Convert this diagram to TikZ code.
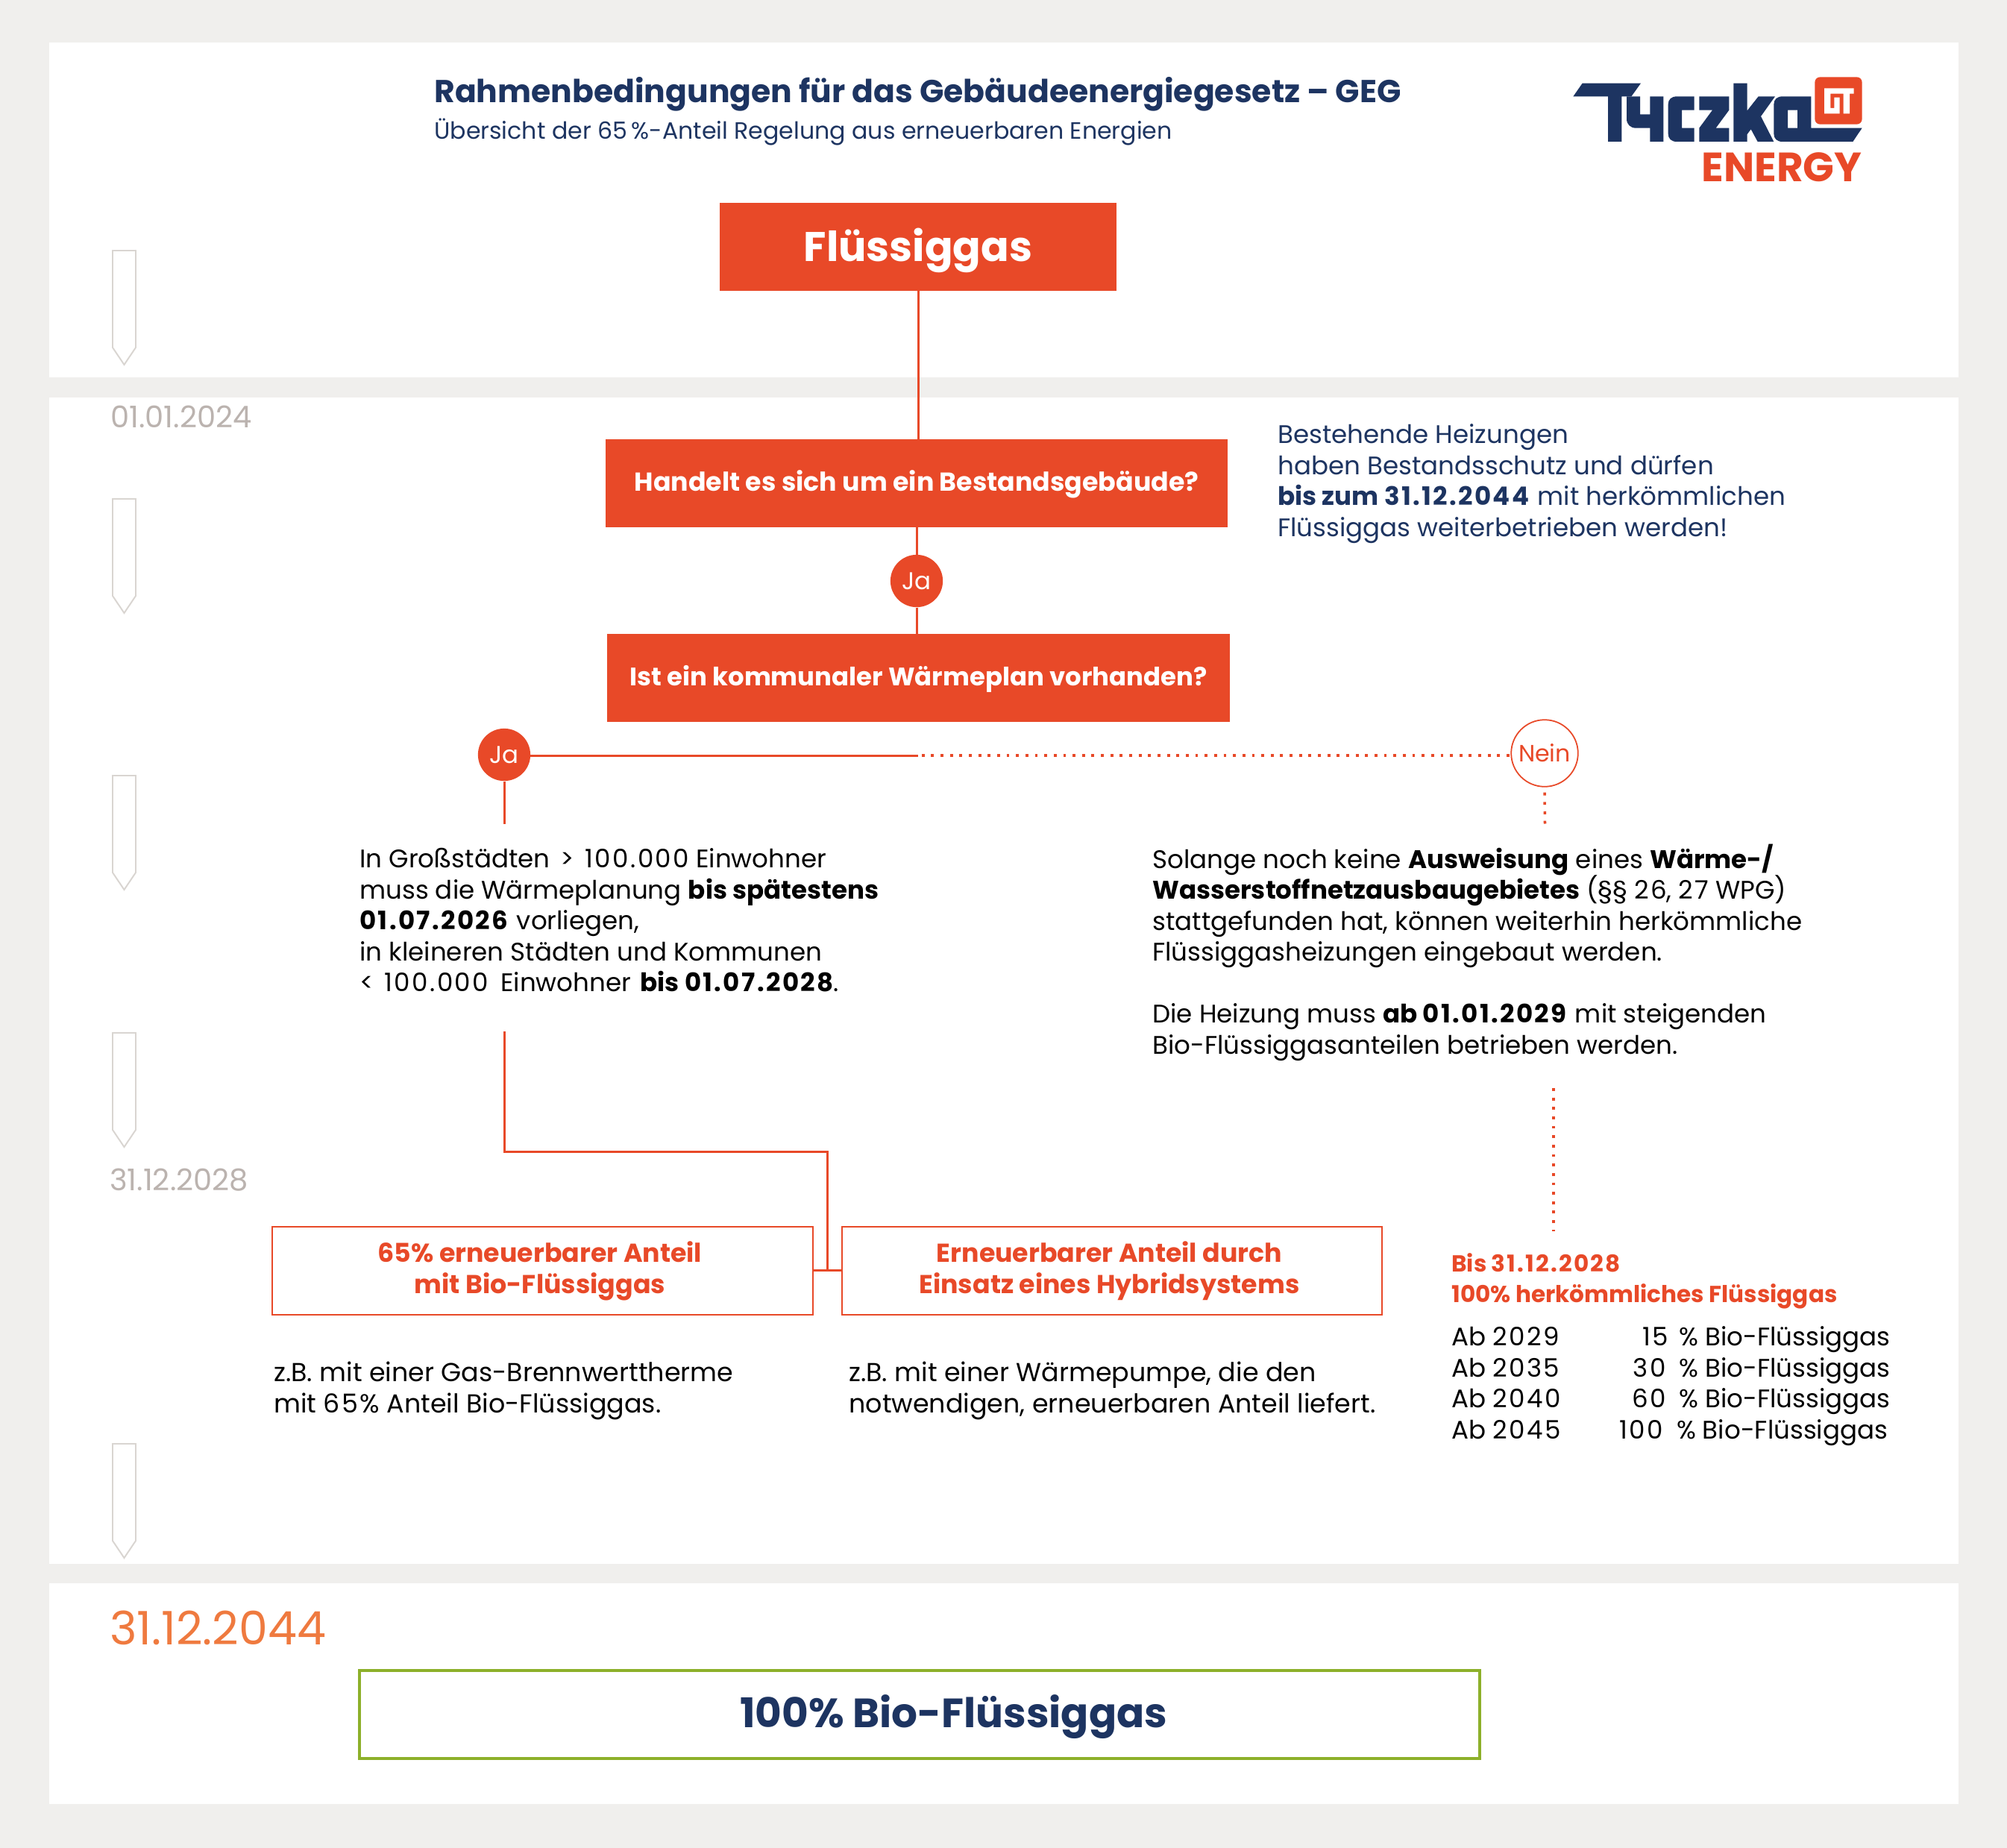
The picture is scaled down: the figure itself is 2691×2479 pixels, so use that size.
\documentclass[tikz,border=0pt]{standalone}
\usepackage{fontspec}
\usetikzlibrary{calc}
\setmainfont{Poppins}
\definecolor{bgc}{HTML}{F0EFED}
\definecolor{navy}{HTML}{1D3461}
\definecolor{redor}{HTML}{E84928}
\definecolor{datec}{HTML}{BBB3AF}
\definecolor{datem}{HTML}{EF7A3F}
\definecolor{penc}{HTML}{D9D5D1}
\definecolor{grn}{HTML}{8DB02A}
\newcommand\bodytxt{\fontsize{19.4}{23.62}\selectfont\lineskiplimit=-30pt\relax}
\newcommand\smalltxt{\fontsize{17.7}{23.62}\selectfont\lineskiplimit=-30pt\relax}
\newcommand\nm[1]{{\addfontfeature{LetterSpace=7}#1}}
\newcommand\basetext[2]{\raisebox{-#1pt}[0pt][0pt]{#2}}
\tikzset{
  x=0.02cm,y=-0.02cm,
  panel/.style={fill=white,draw=none},
  filledbox/.style={fill=redor,draw=none,text=white,inner sep=0pt,font=\bfseries,align=center},
  outlinebox/.style={draw=redor,line width=1.6pt,fill=white,text=redor,inner sep=0pt,align=center,font=\fontsize{19.8}{24}\selectfont\bfseries},
  conn/.style={draw=redor,line width=1.7pt},
  dots/.style={draw=redor,line width=2pt,dash pattern=on 2.2pt off 5pt},
  jacirc/.style={circle,fill=redor,text=white,inner sep=0pt,minimum size=40pt,font=\fontsize{18.5}{20}\selectfont},
  neincirc/.style={circle,draw=redor,fill=white,line width=1pt,text=redor,inner sep=0pt,minimum size=51pt,font=\fontsize{18}{20}\selectfont},
  txt/.style={anchor=north west,inner sep=0pt,align=left,font=\bodytxt},
  note/.style={txt,font=\fontsize{19.85}{23.62}\selectfont},
  datelab/.style={anchor=base west,inner sep=0pt,text=datec,font=\fontsize{22.8}{26}\selectfont},
  pencil/.style={draw=penc,line width=1.1pt,fill=white},
}
\newcommand\pen[1]{\draw[pencil] (151,#1) -- (182,#1) -- (182,#1+130) -- (166.5,#1+153) -- (151,#1+130) -- cycle;}
\begin{document}
\begin{tikzpicture}
\fill[bgc] (0,0) rectangle (2691,2478);
\useasboundingbox (0,0) rectangle (2691,2478);
\fill[panel] (66,57) rectangle (2626,506);
\fill[panel] (66,533) rectangle (2626,2097);
\fill[panel] (66,2123) rectangle (2626,2419);
\pen{336}\pen{669}\pen{1040}\pen{1385}\pen{1936}
\node[datelab] (d1) at (148,573.5) {01.01.2024};
\node[datelab] (d2) at (147,1596) {31.12.2028};
\node[datelab,text=datem,font=\fontsize{35.2}{40}\selectfont] (d3) at (147,2205) {31.12.2044};
% title
\node[anchor=base west,inner sep=0pt,text=navy,font=\fontsize{24.2}{30}\selectfont\bfseries] (title) at (582,137) {Rahmenbedingungen für das Gebäudeenergiegesetz – GEG};
\node[anchor=base west,inner sep=0pt,text=navy,font=\fontsize{18}{22}\selectfont] (sub) at (582,186) {Übersicht der 65\,\%-Anteil Regelung aus erneuerbaren Energien};
% logo
\begin{scope}[shift={(2050,70)},x=0.02cm/3,y=-0.02cm/3]
\fill[navy] (215,125)--(450,125)--(412,178)--(373,178)--(373,360)--(318,360)--(318,178)--(178,178)--cycle;
\fill[navy] (393,178)--(447,178)--(447,250)--(487,250)--(487,178)--(541,178)--(541,360)--(487,360)--(487,305)--(430,305)..controls (408,305) and (393,290)..(393,268)--cycle;
\fill[navy] (665,178)--(595,178)..controls (573,178) and (560,190)..(560,210)--(560,328)..controls (560,348) and (573,360)..(595,360)--(665,360)--(665,305)--(615,305)--(615,233)--(665,233)--cycle;
\fill[navy] (685,178)--(805,178)--(805,233)--(752,305)--(805,305)--(805,360)--(685,360)--(685,305)--(738,233)--(685,233)--cycle;
\fill[navy] (823,125)--(878,125)--(878,235)--(923,178)--(990,178)--(933,258)--(985,360)--(920,360)--(893,310)--(878,330)--(878,360)--(823,360)--cycle;
\fill[navy,even odd rule] (1020,178)--(1135,178)--(1135,305)--(1340,305)--(1303,360)--(1020,360)..controls (998,360) and (985,348)..(985,328)--(985,210)..controls (985,190) and (998,178)..(1020,178)--cycle (1041,233)--(1080,233)--(1080,305)--(1041,305)--cycle;
\fill[redor,rounded corners=4pt] (1150,100) rectangle (1340,290);
\fill[white] (1188,145)--(1307,145)--(1307,167)--(1290,167)--(1290,247)--(1265,247)--(1265,167)--(1213,167)--(1213,225)--(1228,225)--(1228,182)--(1250,182)--(1250,247)--(1188,247)--cycle;
\node[anchor=base east,inner sep=0pt,text=redor,font=\fontsize{31.2}{32}\selectfont\bfseries] (energy) at (1340,520) {ENERGY};
\end{scope}
% main nodes
\node[filledbox,minimum width=532*0.5692pt,minimum height=118*0.5692pt,font=\fontsize{31.6}{36}\selectfont\bfseries] (flg) at (1231,331) {\basetext{11.2}{Flüssiggas}};
\node[filledbox,minimum width=834*0.5692pt,minimum height=118*0.5692pt,font=\fontsize{19.8}{24}\selectfont\bfseries] (q1) at (1229,648) {\basetext{6}{Handelt es sich um ein Bestandsgebäude?}};
\node[filledbox,minimum width=835*0.5692pt,minimum height=118*0.5692pt,font=\fontsize{19.3}{24}\selectfont\bfseries] (q2) at (1231.5,909) {\basetext{6}{Ist ein kommunaler Wärmeplan vorhanden?}};
\node[jacirc] (ja1) at (1229,779) {Ja};
\node[jacirc] (ja2) at (676,1012) {Ja};
\node[neincirc] (nein) at (2071,1010) {Nein};
\coordinate (jct) at (1231,1013);
\coordinate (neinw) at (2026,1013);
\coordinate (jaend) at (676,1105);
\coordinate (neinend) at (2071.5,1105);
\coordinate (tx1out) at (676,1383);
\coordinate (bend1) at (676,1544);
\coordinate (bend2) at (1109,1544);
\coordinate (tee) at (1109,1703);
\coordinate (dot1) at (2083,1459);
\coordinate (dot2) at (2083,1651);
\node[outlinebox,minimum width=725*0.5692pt,minimum height=118*0.5692pt] (bl) at (727.5,1704) {\hspace*{-4pt}65\% erneuerbarer Anteil\\\hspace*{-4pt}mit Bio-Flüssiggas};
\node[outlinebox,minimum width=724*0.5692pt,minimum height=118*0.5692pt] (br) at (1491,1704) {\hspace*{-4pt}Erneuerbarer Anteil durch\\\hspace*{-4pt}Einsatz eines Hybridsystems};
\node[draw=grn,line width=2.4pt,fill=white,text=navy,inner sep=0pt,minimum width=1502*0.5692pt,minimum height=118*0.5692pt,font=\fontsize{31.2}{36}\selectfont\bfseries] (final) at (1233,2299) {\hspace*{52pt}\basetext{9.7}{100\% Bio-Flüssiggas}};
% connectors
\draw[conn] (flg.south) -- (q1.north -| flg);
\draw[conn] (q1) -- (ja1);
\draw[conn] (ja1) -- (q2.north -| ja1);
\draw[conn] (ja2) -- (jaend);
\draw[conn] (ja2.east |- jct) -- (jct);
\draw[dots,dash phase=4.5pt] (jct) -- (neinw);
\draw[dots] ($(nein.south)+(0,7)$) -- (neinend);
\draw[conn] (tx1out) -- (bend1) -- (bend2) -- (tee);
\draw[conn] (bl.east |- tee) -- (br.west |- tee);
\draw[dots] (dot1) -- (dot2);
% texts
\node[txt,text=navy] (tb1) at (1713,565.5) {\strut Bestehende Heizungen\\haben Bestandsschutz und dürfen\\\textbf{bis zum \nm{31.12.2044}} mit herkömmlichen\\Flüssiggas weiterbetrieben werden!};
\node[txt] (tb2) at (482,1134.5) {\strut In Großstädten\hspace{3pt} >\hspace{3pt} \nm{100.000} Einwohner\\muss die Wärmeplanung \textbf{bis spätestens}\\\textbf{\nm{01.07.2026}} vorliegen,\\in kleineren Städten und Kommunen\\<\hspace{3pt} \nm{100.000}\hspace{4pt} Einwohner\hspace{2pt} \textbf{bis \nm{01.07.2028}}.};
\node[txt] (tb3) at (1545,1131.5) {\strut Solange noch keine \textbf{Ausweisung} eines \textbf{Wärme-/}\\\textbf{Wasserstoffnetzausbaugebietes} (§§ \nm{26}, \nm{27} WPG)\\stattgefunden hat, können weiterhin herkömmliche\\Flüssiggasheizungen eingebaut werden.\\[23.62pt]Die Heizung muss \textbf{ab \nm{01.01.2029}} mit steigenden\\Bio-Flüssiggasanteilen betrieben werden.};
\node[note] (tb4) at (367,1823.5) {\strut z.B. mit einer Gas-Brennwerttherme\\mit \nm{65\%} Anteil Bio-Flüssiggas.};
\node[note] (tb5) at (1138,1823.5) {\strut z.B. mit einer Wärmepumpe, die den\\notwendigen, erneuerbaren Anteil liefert.};
\node[txt,text=redor,font=\smalltxt\bfseries] (tb6) at (1946,1676) {\strut Bis \nm{31.12.2028}\\100\% herkömmliches Flüssiggas};
\node[txt] (tb7) at (1946,1775.5) {\strut Ab \nm{2029}\\Ab \nm{2035}\\Ab \nm{2040}\\Ab \nm{2045}};
\node[txt,anchor=north east,align=right] (tb8) at (2535,1775.5) {\strut \nm{15}\hspace{3pt} \% Bio-Flüssiggas\\\nm{30}\hspace{5pt} \% Bio-Flüssiggas\\\nm{60}\hspace{5pt} \% Bio-Flüssiggas\\\nm{100}\hspace{5pt} \% Bio-Flüssiggas\hspace*{2pt}};
\end{tikzpicture}
\end{document}
